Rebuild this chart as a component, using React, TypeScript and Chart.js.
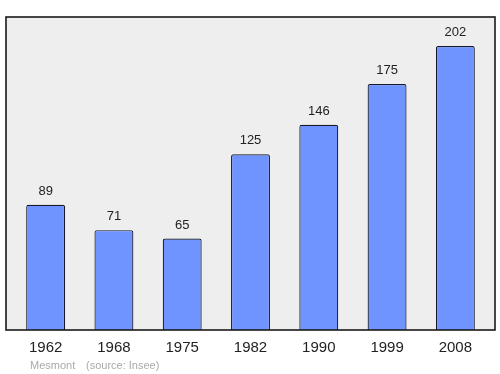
import React, { useEffect, useRef } from "react";
import { Chart, registerables } from "chart.js";

Chart.register(...registerables);

const years = ["1962", "1968", "1975", "1982", "1990", "1999", "2008"];
const population = [89, 71, 65, 125, 146, 175, 202];
const footerName = "Mesmont";
const footerSource = "(source: Insee)";

const framePlugin = {
  id: "frame",
  beforeDraw(chart: any) {
    const { ctx, chartArea } = chart;
    const l = chartArea.left - 5.5;
    const r = chartArea.right + 5.5;
    ctx.save();
    ctx.fillStyle = "#eeeeee";
    ctx.fillRect(l, chartArea.top, r - l, chartArea.bottom - chartArea.top);
    ctx.restore();
  },
  afterDatasetsDraw(chart: any) {
    const { ctx, chartArea } = chart;
    const l = chartArea.left - 5.5;
    const r = chartArea.right + 5.5;
    ctx.save();
    ctx.strokeStyle = "#1a1a1a";
    ctx.lineWidth = 1.6;
    ctx.strokeRect(l, chartArea.top, r - l, chartArea.bottom - chartArea.top);
    const meta = chart.getDatasetMeta(0);
    ctx.fillStyle = "#222222";
    ctx.font = "13px 'Liberation Sans', Arial, sans-serif";
    ctx.textAlign = "center";
    ctx.textBaseline = "alphabetic";
    meta.data.forEach((bar: any, i: number) => {
      ctx.fillText(String(population[i]), bar.x, bar.y - 10);
    });
    ctx.fillStyle = "#aaaaaa";
    ctx.font = "11px 'Liberation Sans', Arial, sans-serif";
    ctx.textAlign = "left";
    ctx.fillText(footerName, 30, 369);
    ctx.fillText(footerSource, 86, 369);
    ctx.restore();
  },
};

export default function App() {
  const ref = useRef<HTMLCanvasElement>(null);
  useEffect(() => {
    if (!ref.current) return;
    const chart = new Chart(ref.current, {
      type: "bar",
      data: {
        labels: years,
        datasets: [
          {
            data: population,
            backgroundColor: "#7094ff",
            borderColor: "#15182a",
            borderWidth: 1.2,
            borderRadius: 2,
            borderSkipped: "bottom",
            barPercentage: 0.57,
            categoryPercentage: 1,
          },
        ],
      },
      plugins: [framePlugin],
      options: {
        animation: false,
        responsive: false,
        layout: { padding: { left: 11.5, right: 10.5, top: 17, bottom: 0 } },
        plugins: { legend: { display: false }, tooltip: { enabled: false } },
        scales: {
          x: {
            grid: { display: false, drawTicks: false },
            border: { display: false },
            ticks: {
              color: "#222222",
              padding: 9,
              font: { size: 15, family: "'Liberation Sans', Arial, sans-serif" },
            },
            afterFit(scale: any) {
              scale.height = 44;
            },
          },
          y: {
            display: false,
            min: 0,
            max: 222.6,
          },
        },
      },
    } as any);
    return () => chart.destroy();
  }, []);
  return (
    <div style={{ position: "fixed", left: 0, top: 0, width: 500, height: 374, background: "#ffffff" }}>
      <canvas ref={ref} width={500} height={374} />
    </div>
  );
}
